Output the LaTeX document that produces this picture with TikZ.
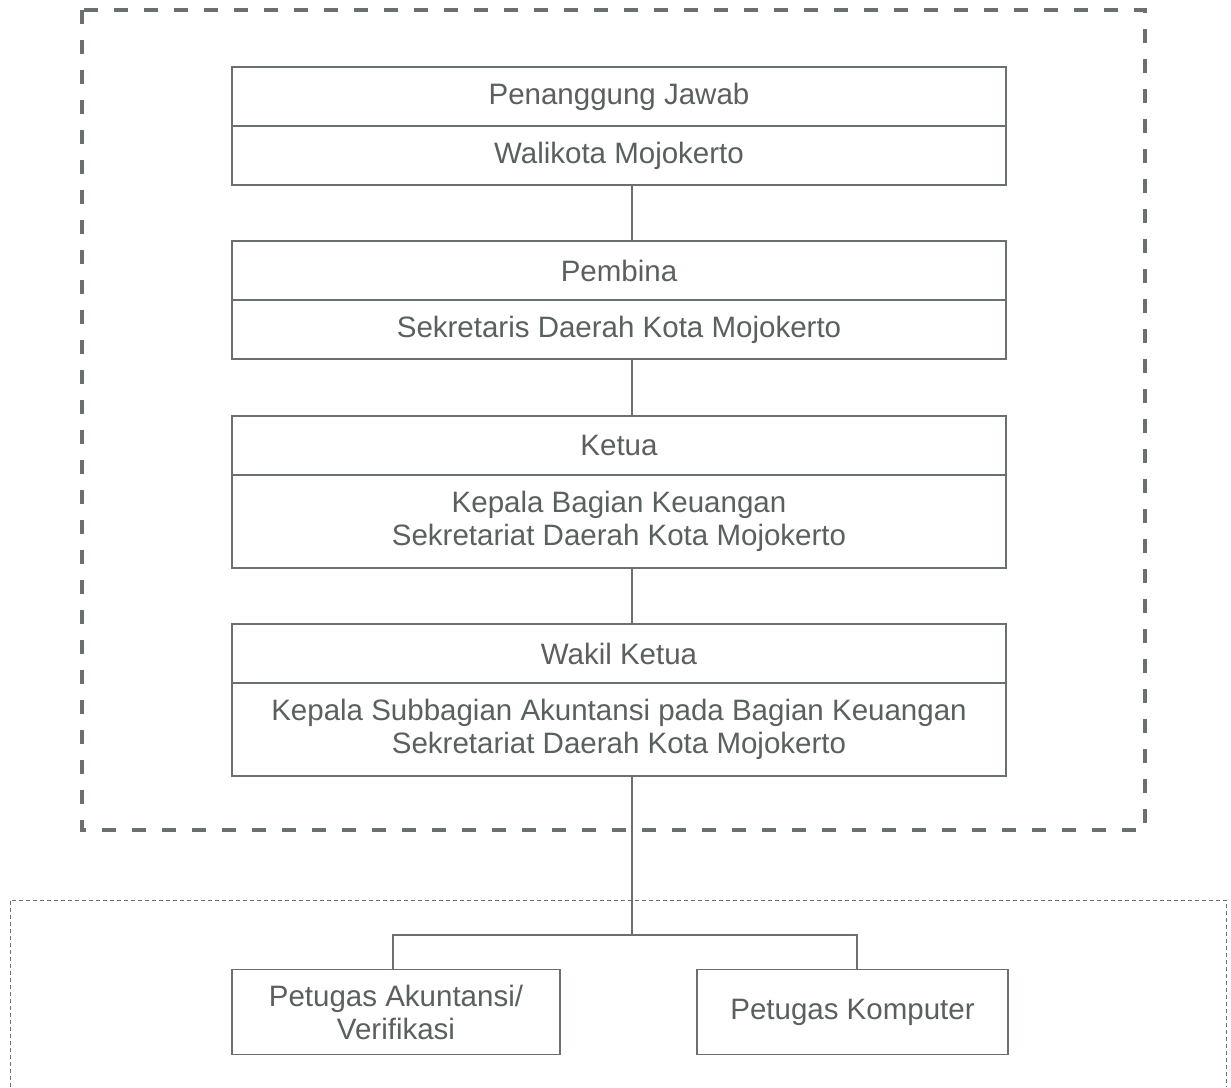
\documentclass[tikz,border=0pt]{standalone}
\usepackage{fontspec}
\setmainfont{Liberation Sans}
\usetikzlibrary{positioning}
\definecolor{inkgray}{HTML}{5A605E}
\definecolor{linegray}{HTML}{6A706E}
\begin{document}
\begin{tikzpicture}[x=1pt,y=-1pt,
	head/.style={draw=linegray,line width=1.3pt,outer sep=0pt,inner sep=0pt,minimum width=774pt,minimum height=59pt,text=inkgray,align=center,font=\fontsize{29.5}{33}\selectfont},
	tall/.style={head,minimum height=93pt},
	staff/.style={head,minimum height=85pt},
	link/.style={draw=linegray,line width=1.3pt},
	outerdash/.style={draw=linegray,line width=3.5pt,dash pattern=on 14pt off 16pt},
	innerdot/.style={draw=linegray,line width=1pt,dash pattern=on 4pt off 3pt}]
	\useasboundingbox (0,0) rectangle (1231,1087);
	\fill[white] (0,0) rectangle (1231,1087);
	% susunan tim
	\node[head] (pj) at (619,96.5) {Penanggung Jawab};
	\node[head,below=0pt of pj] (wali) {Walikota Mojokerto};
	\node[head,below=56pt of wali] (pemb) {Pembina};
	\node[head,below=0pt of pemb] (sekda) {Sekretaris Daerah Kota Mojokerto};
	\node[head,below=57pt of sekda] (ketua) {Ketua};
	\node[tall,below=0pt of ketua] (kabag) {Kepala Bagian Keuangan\\Sekretariat Daerah Kota Mojokerto};
	\node[head,below=56pt of kabag] (wakil) {Wakil Ketua};
	\node[tall,below=0pt of wakil] (kasub) {Kepala Subbagian Akuntansi pada Bagian Keuangan\\Sekretariat Daerah Kota Mojokerto};
	\node[staff,minimum width=328pt] (akun) at (396,1012) {Petugas Akuntansi/\\Verifikasi};
	\node[staff,minimum width=311pt] (komp) at (852.5,1012) {Petugas Komputer};
	% garis
	\coordinate (spine) at (632,0);
	\coordinate (fork) at (632,935);
	\coordinate (dropL) at (393,935);
	\coordinate (dropR) at (857,935);
	\draw[link] (wali.south -| spine) -- (pemb.north -| spine);
	\draw[link] (sekda.south -| spine) -- (ketua.north -| spine);
	\draw[link] (kabag.south -| spine) -- (wakil.north -| spine);
	\draw[link] (kasub.south -| spine) -- (fork);
	\draw[link] (dropL |- akun.north) -- (dropL) -- (dropR) -- (dropR |- komp.north);
	% bingkai
	\draw[outerdash] (82,10) rectangle (1145,830);
	\draw[innerdot] (10,1087) |- (1226,900) -- (1226,1087);
\end{tikzpicture}
\end{document}
